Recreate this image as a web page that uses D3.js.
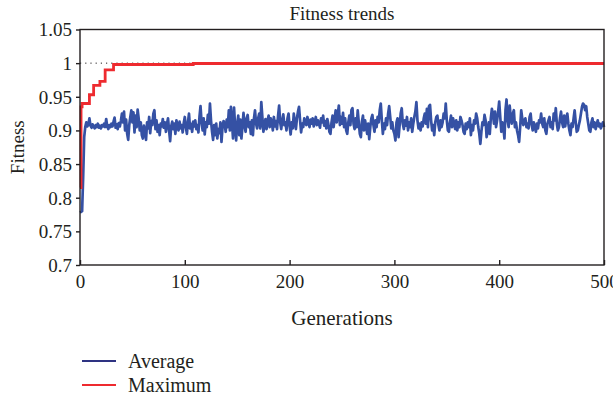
<!DOCTYPE html>
<html>
<head>
<meta charset="utf-8">
<script src="https://cdn.jsdelivr.net/npm/d3@7"></script>
<style>
  body { margin: 0; background: #fff; }
  svg text { font-family: "Liberation Serif", "DejaVu Serif", serif; fill: #231f20; }
</style>
</head>
<body>
<svg id="chart" width="613" height="402"></svg>
<script>
/** ------------- DATA -------------- */

// average fitness, one value per generation (0..500)
const avgFitness = [
  0.778, 0.779, 0.780, 0.830, 0.890, 0.905, 0.912, 0.906, 0.909, 0.918,
  0.907, 0.904, 0.909, 0.906, 0.903, 0.908, 0.905, 0.910, 0.904, 0.907,
  0.903, 0.908, 0.906, 0.910, 0.905, 0.917, 0.906, 0.902, 0.908, 0.905,
  0.910, 0.906, 0.913, 0.919, 0.904, 0.909, 0.902, 0.911, 0.906, 0.914,
  0.925, 0.912, 0.928, 0.900, 0.916, 0.895, 0.886, 0.908, 0.920, 0.930,
  0.912, 0.927, 0.897, 0.922, 0.905, 0.931, 0.918, 0.900, 0.912, 0.893,
  0.888, 0.907, 0.898, 0.886, 0.912, 0.903, 0.920, 0.896, 0.914, 0.908,
  0.925, 0.930, 0.902, 0.915, 0.898, 0.908, 0.893, 0.910, 0.906, 0.917,
  0.904, 0.912, 0.898, 0.910, 0.918, 0.900, 0.884, 0.906, 0.913, 0.902,
  0.910, 0.895, 0.915, 0.906, 0.900, 0.913, 0.903, 0.908, 0.897, 0.911,
  0.920, 0.905, 0.895, 0.912, 0.925, 0.903, 0.910, 0.898, 0.913, 0.906,
  0.915, 0.902, 0.908, 0.897, 0.920, 0.936, 0.912, 0.900, 0.918, 0.894,
  0.912, 0.905, 0.923, 0.910, 0.940, 0.915, 0.898, 0.886, 0.908, 0.893,
  0.910, 0.888, 0.902, 0.896, 0.912, 0.883, 0.905, 0.914, 0.910, 0.898,
  0.916, 0.905, 0.930, 0.900, 0.935, 0.912, 0.888, 0.934, 0.906, 0.885,
  0.910, 0.922, 0.893, 0.916, 0.888, 0.905, 0.926, 0.908, 0.898, 0.918,
  0.923, 0.905, 0.912, 0.895, 0.915, 0.893, 0.918, 0.930, 0.910, 0.903,
  0.918, 0.925, 0.903, 0.942, 0.920, 0.898, 0.908, 0.917, 0.902, 0.915,
  0.922, 0.905, 0.918, 0.912, 0.900, 0.920, 0.906, 0.914, 0.902, 0.922,
  0.937, 0.912, 0.902, 0.915, 0.924, 0.908, 0.912, 0.900, 0.918, 0.925,
  0.906, 0.894, 0.912, 0.903, 0.925, 0.912, 0.902, 0.918, 0.928, 0.935,
  0.915, 0.897, 0.910, 0.905, 0.918, 0.913, 0.908, 0.920, 0.912, 0.905,
  0.916, 0.910, 0.918, 0.906, 0.913, 0.920, 0.908, 0.915, 0.910, 0.904,
  0.918, 0.912, 0.922, 0.907, 0.914, 0.903, 0.917, 0.909, 0.898, 0.895,
  0.912, 0.922, 0.905, 0.918, 0.930, 0.912, 0.925, 0.937, 0.908, 0.920,
  0.910, 0.926, 0.905, 0.918, 0.900, 0.895, 0.912, 0.922, 0.908, 0.930,
  0.933, 0.910, 0.902, 0.918, 0.905, 0.930, 0.912, 0.895, 0.890, 0.913,
  0.922, 0.900, 0.915, 0.906, 0.895, 0.910, 0.887, 0.905, 0.918, 0.923,
  0.908, 0.898, 0.915, 0.905, 0.920, 0.912, 0.930, 0.940, 0.915, 0.895,
  0.910, 0.902, 0.918, 0.908, 0.925, 0.936, 0.920, 0.903, 0.912, 0.900,
  0.895, 0.885, 0.912, 0.918, 0.890, 0.908, 0.925, 0.933, 0.910, 0.902,
  0.915, 0.907, 0.920, 0.900, 0.912, 0.905, 0.918, 0.898, 0.910, 0.920,
  0.928, 0.942, 0.915, 0.903, 0.910, 0.900, 0.912, 0.906, 0.918, 0.925,
  0.910, 0.932, 0.905, 0.936, 0.938, 0.915, 0.900, 0.908, 0.893, 0.912,
  0.920, 0.922, 0.908, 0.900, 0.915, 0.905, 0.912, 0.925, 0.918, 0.940,
  0.915, 0.900, 0.898, 0.912, 0.922, 0.905, 0.918, 0.910, 0.902, 0.915,
  0.900, 0.912, 0.905, 0.920, 0.915, 0.908, 0.898, 0.895, 0.910, 0.902,
  0.912, 0.905, 0.918, 0.893, 0.908, 0.900, 0.915, 0.910, 0.925, 0.918,
  0.905, 0.895, 0.880, 0.898, 0.912, 0.908, 0.923, 0.915, 0.890, 0.900,
  0.912, 0.895, 0.918, 0.932, 0.925, 0.910, 0.928, 0.905, 0.915, 0.928,
  0.943, 0.920, 0.898, 0.912, 0.905, 0.888, 0.930, 0.946, 0.915, 0.905,
  0.937, 0.920, 0.910, 0.925, 0.930, 0.905, 0.912, 0.900, 0.893, 0.883,
  0.905, 0.930, 0.918, 0.908, 0.912, 0.918, 0.905, 0.910, 0.903, 0.920,
  0.925, 0.908, 0.900, 0.912, 0.905, 0.898, 0.910, 0.903, 0.915, 0.912,
  0.925, 0.910, 0.905, 0.918, 0.900, 0.895, 0.910, 0.915, 0.920, 0.905,
  0.912, 0.902, 0.925, 0.915, 0.933, 0.910, 0.900, 0.905, 0.918, 0.928,
  0.912, 0.905, 0.922, 0.906, 0.918, 0.925, 0.910, 0.900, 0.893, 0.910,
  0.905, 0.918, 0.930, 0.912, 0.898, 0.900, 0.908, 0.915, 0.925, 0.935,
  0.940, 0.938, 0.930, 0.936, 0.920, 0.910, 0.900, 0.898, 0.912, 0.918,
  0.905, 0.912, 0.902, 0.908, 0.915, 0.906, 0.910, 0.903, 0.908, 0.912,
  0.905
];

// maximum fitness, stepwise: generation where each level starts
const maxGen = [0, 1, 2, 9, 13, 19, 24, 32, 108, 500];
const maxVal = [0.815, 0.935, 0.94, 0.953, 0.967, 0.973, 0.99, 0.998, 0.9995, 0.9995];

const yTicks = [0.7, 0.75, 0.8, 0.85, 0.9, 0.95, 1, 1.05];
const xTicks = [0, 100, 200, 300, 400, 500];

const seriesNames = ["Average", "Maximum"];
const seriesColors = ["#3551a4", "#ee2a2f"];
const legendColors = ["#2e3382", "#ee2a2f"];

/** ------------- CHART -------------- */

const svg = d3.select("#chart");
const plotLeft = 80, plotRight = 604, plotTop = 29.5, plotBottom = 265;

const x = d3.scaleLinear().domain([0, 500]).range([plotLeft, plotRight]);
const y = d3.scaleLinear().domain([0.7, 1.05]).range([plotBottom, plotTop]);

// title
svg.append("text")
    .attr("x", (plotLeft + plotRight) / 2)
    .attr("y", 20)
    .attr("text-anchor", "middle")
    .style("font-size", "19px")
    .text("Fitness trends");

// dotted reference line at 1
svg.append("line")
    .attr("x1", x(0)).attr("x2", x(500))
    .attr("y1", y(1)).attr("y2", y(1))
    .attr("stroke", "#231f20")
    .attr("stroke-width", 1)
    .attr("stroke-dasharray", "1.2,4");

// average line
const avgLine = d3.line()
    .x((d, i) => x(i))
    .y((d) => y(d));

svg.append("path")
    .datum(avgFitness)
    .attr("d", avgLine)
    .attr("fill", "none")
    .attr("stroke", seriesColors[0])
    .attr("stroke-width", 2.7)
    .attr("stroke-linejoin", "round");

// maximum line
const maxLine = d3.line()
    .x((d) => x(d[0]))
    .y((d) => y(d[1]))
    .curve(d3.curveStepAfter);

svg.append("path")
    .datum(maxGen.map((g, i) => [g, maxVal[i]]))
    .attr("d", maxLine)
    .attr("fill", "none")
    .attr("stroke", seriesColors[1])
    .attr("stroke-width", 2.8);

// frame
svg.append("rect")
    .attr("x", plotLeft).attr("y", plotTop)
    .attr("width", plotRight - plotLeft).attr("height", plotBottom - plotTop)
    .attr("fill", "none")
    .attr("stroke", "#231f20")
    .attr("stroke-width", 1.4);

// y axis
const yAxis = svg.append("g")
    .attr("transform", `translate(${plotLeft},0)`)
    .call(d3.axisLeft(y).tickValues(yTicks).tickSize(4).tickPadding(4)
        .tickFormat((d) => String(+d.toFixed(2))));
yAxis.select(".domain").remove();
yAxis.selectAll("line").attr("stroke", "#231f20").attr("stroke-width", 1.4);
yAxis.selectAll("text").style("font-size", "19px").attr("dy", "0.34em");

// x axis
const xAxis = svg.append("g")
    .attr("transform", `translate(0,${plotBottom})`)
    .call(d3.axisBottom(x).tickValues(xTicks).tickSize(-5).tickPadding(10));
xAxis.select(".domain").remove();
xAxis.selectAll("line").attr("stroke", "#231f20").attr("stroke-width", 1.4);
xAxis.selectAll("text").style("font-size", "19px");

// axis titles
svg.append("text")
    .attr("x", (plotLeft + plotRight) / 2)
    .attr("y", 325)
    .attr("text-anchor", "middle")
    .style("font-size", "21px")
    .text("Generations");

svg.append("text")
    .attr("transform", `translate(24,${(plotTop + plotBottom) / 2}) rotate(-90)`)
    .attr("text-anchor", "middle")
    .style("font-size", "19px")
    .text("Fitness");

// legend
const legend = svg.append("g").attr("transform", "translate(82,361)");
seriesNames.forEach((name, i) => {
    legend.append("line")
        .attr("x1", 0).attr("x2", 34)
        .attr("y1", i * 24).attr("y2", i * 24)
        .attr("stroke", legendColors[i])
        .attr("stroke-width", 2);
    legend.append("text")
        .attr("x", 46)
        .attr("y", i * 24 + 7)
        .style("font-size", "20px")
        .text(name);
});
</script>
</body>
</html>
